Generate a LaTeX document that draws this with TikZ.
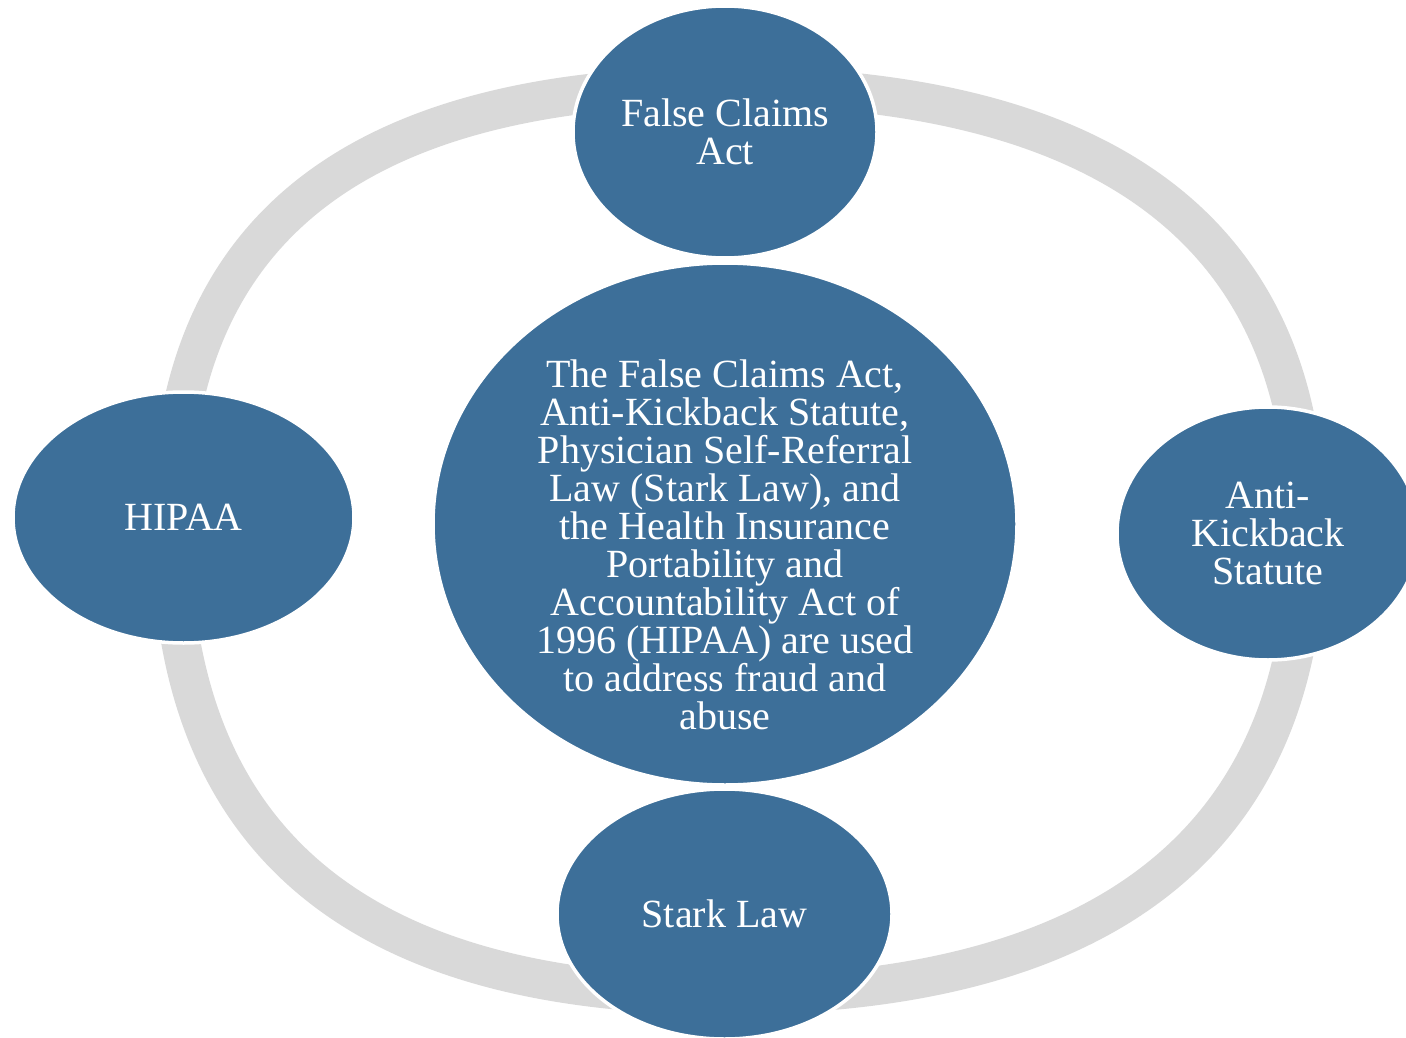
\documentclass[tikz,border=0pt]{standalone}
\usepackage{fontspec}
\setmainfont{Liberation Serif}
\usetikzlibrary{shapes.geometric}
\definecolor{ringgrey}{HTML}{D9D9D9}
\definecolor{nodeblue}{HTML}{3D6F99}
\begin{document}
\begin{tikzpicture}[x=1pt,y=-1pt,
  bubble/.style={ellipse, fill=nodeblue, draw=white, line width=3.5pt, inner sep=0pt,
    text=white, align=center, font=\fontsize{40}{38}\selectfont},
  ringline/.style={draw=ringgrey, line width=39pt, line join=round},
  bodytext/.style={text=white, align=center, inner sep=0pt, font=\fontsize{40}{38}\selectfont}]
\useasboundingbox (0,0) rectangle (1406,1038);
\clip (0,0) rectangle (1406,1038);
% ring
\coordinate (rl) at (171,525);
\coordinate (rt) at (725,86);
\coordinate (rr) at (1306,530);
\coordinate (rb) at (725,995);
\draw[ringline] (rl) .. controls (171,231) and (354,86) .. (rt)
  .. controls (1106,86) and (1306,233) .. (rr)
  .. controls (1306,840) and (1106,995) .. (rb)
  .. controls (354,995) and (171,838) .. (rl) -- cycle;
% nodes
\node[bubble, minimum width=304pt, minimum height=252pt] (fca) at (725,132) {False Claims\\Act};
\node[bubble, minimum width=302pt, minimum height=253pt] (aks) at (1268,533.5) {Anti-\\Kickback\\Statute};
\node[bubble, minimum width=341pt, minimum height=251pt] (hipaa) at (183.5,517.5) {HIPAA};
\node[bubble, minimum width=335pt, minimum height=250pt] (stark) at (724.5,914) {Stark Law};
\node[bubble, minimum width=584pt, minimum height=522pt] (core) at (725,524) {};
\node[bodytext] (coretext) at (725,545) {The False Claims Act,\\Anti-Kickback Statute,\\Physician Self-Referral\\Law (Stark Law), and\\the Health Insurance\\Portability and\\Accountability Act of\\1996 (HIPAA) are used\\to address fraud and\\abuse};
\end{tikzpicture}
\end{document}
